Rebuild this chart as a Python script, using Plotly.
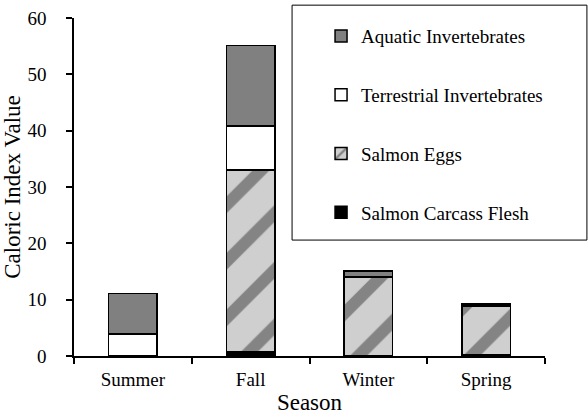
import plotly.graph_objects as go

# seasons and caloric index values
seasons = ["Summer", "Fall", "Winter", "Spring"]
carcass = [0.0, 0.7, 0.0, 0.3]
eggs = [0.0, 32.3, 14.0, 8.6]
terrestrial = [3.9, 7.8, 0.1, 0.15]
aquatic = [7.2, 14.3, 1.0, 0.15]

FONT = "Liberation Serif"
outline = dict(color="black", width=1.5)

fig = go.Figure()
fig.add_trace(go.Bar(x=seasons, y=carcass, name="Salmon Carcass Flesh",
                     marker=dict(color="black", line=outline),
                     legendgroup="d", legendrank=4))
fig.add_trace(go.Bar(x=seasons, y=eggs, name="Salmon Eggs",
                     marker=dict(color="#c8c8c8", line=outline,
                                 pattern=dict(shape="/", size=40, solidity=0.3,
                                              fgcolor="#3a3a3a", bgcolor="#cfcfcf")),
                     legendgroup="c", legendrank=3))
fig.add_trace(go.Bar(x=seasons, y=terrestrial, name="Terrestrial Invertebrates",
                     marker=dict(color="white", line=outline),
                     legendgroup="b", legendrank=2))
fig.add_trace(go.Bar(x=seasons, y=aquatic, name="Aquatic Invertebrates",
                     marker=dict(color="#808080", line=outline),
                     legendgroup="a", legendrank=1))

# legend frame
fig.add_shape(type="rect", xref="paper", yref="paper",
              x0=0.463, x1=1.089, y0=0.343, y1=1.038,
              line=dict(color="black", width=1), fillcolor="white", layer="below")

fig.update_layout(
    width=588, height=419,
    barmode="stack", bargap=0.59,
    plot_bgcolor="white", paper_bgcolor="white",
    font=dict(family=FONT, size=19, color="black"),
    margin=dict(l=74, r=43, t=18, b=63, autoexpand=False),
    showlegend=True,
    legend=dict(x=0.546, y=0.959, xref="container", yref="container",
                xanchor="left", yanchor="top",
                traceorder="grouped", tracegroupgap=31, maxheight=400,
                bgcolor="rgba(0,0,0,0)", font=dict(size=19)),
    xaxis=dict(showline=True, linecolor="black", linewidth=1.5,
               ticks="outside", tickson="boundaries", ticklen=6,
               tickcolor="black", tickwidth=1.5, automargin=False,
               ticklabelstandoff=5,
               title=dict(text="Season", standoff=4)),
    yaxis=dict(range=[0, 60], dtick=10, showgrid=False, zeroline=False,
               showline=True, linecolor="black", linewidth=1.5,
               ticks="outside", ticklen=6, tickcolor="black", tickwidth=1.5,
               ticklabelstandoff=16, automargin=False,
               title=dict(text="Caloric Index Value", standoff=0)),
)

# drop the browser's default 8px body margin so the figure sits at the page corner
fig.write_html("out.html", config={"displayModeBar": False},
               post_script="document.body.style.margin='0';")
